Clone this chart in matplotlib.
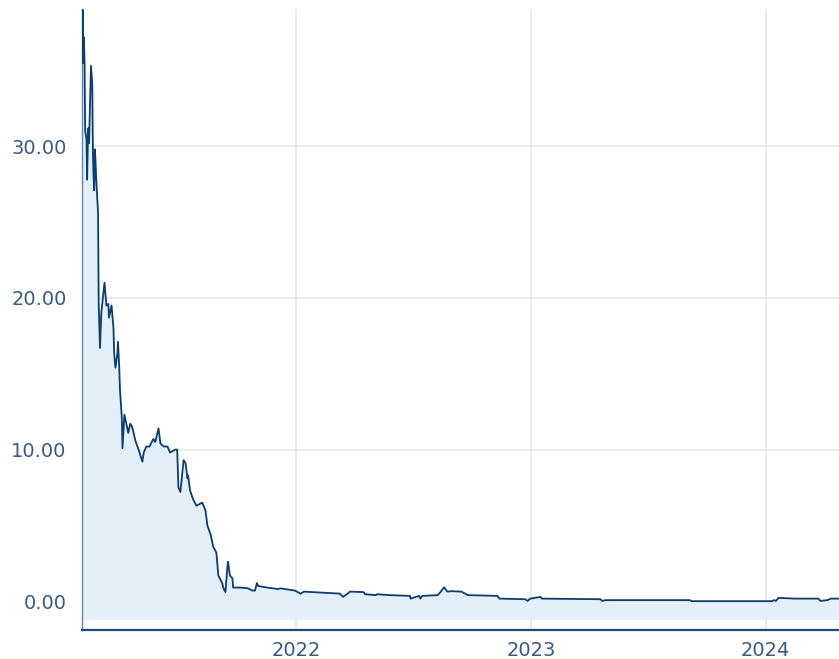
import matplotlib
matplotlib.use("Agg")
import matplotlib.pyplot as plt
import matplotlib.dates as mdates
import matplotlib.ticker as mticker
import pandas as pd

# daily close
dates = [
    "2021-02-02", "2021-02-03", "2021-02-04", "2021-02-05", "2021-02-06", "2021-02-07",
    "2021-02-09", "2021-02-10", "2021-02-11", "2021-02-12", "2021-02-13", "2021-02-16",
    "2021-02-18", "2021-02-19", "2021-02-20", "2021-02-21", "2021-02-22", "2021-02-23",
    "2021-02-24", "2021-02-27", "2021-02-28", "2021-03-02", "2021-03-04", "2021-03-09",
    "2021-03-12", "2021-03-15", "2021-03-16", "2021-03-20", "2021-03-23", "2021-03-24",
    "2021-03-26", "2021-03-29", "2021-03-30", "2021-04-01", "2021-04-02", "2021-04-05",
    "2021-04-06", "2021-04-09", "2021-04-12", "2021-04-15", "2021-04-18", "2021-04-21",
    "2021-04-26", "2021-05-01", "2021-05-07", "2021-05-09", "2021-05-13", "2021-05-18",
    "2021-05-24", "2021-05-27", "2021-06-01", "2021-06-04", "2021-06-09", "2021-06-15",
    "2021-06-19", "2021-06-27", "2021-06-30", "2021-07-02", "2021-07-05", "2021-07-10",
    "2021-07-13", "2021-07-16", "2021-07-17", "2021-07-20", "2021-07-25", "2021-07-30",
    "2021-08-08", "2021-08-13", "2021-08-16", "2021-08-21", "2021-08-25", "2021-08-30",
    "2021-09-02", "2021-09-08", "2021-09-10", "2021-09-13", "2021-09-16", "2021-09-17",
    "2021-09-20", "2021-09-24", "2021-09-25", "2021-10-06", "2021-10-18", "2021-10-25",
    "2021-10-29", "2021-11-01", "2021-11-03", "2021-11-17", "2021-12-04", "2021-12-07",
    "2021-12-30", "2022-01-08", "2022-01-13", "2022-03-10", "2022-03-15", "2022-03-26",
    "2022-04-16", "2022-04-18", "2022-05-05", "2022-05-07", "2022-05-26", "2022-06-27",
    "2022-06-28", "2022-07-11", "2022-07-13", "2022-07-16", "2022-08-09", "2022-08-14",
    "2022-08-19", "2022-08-24", "2022-08-30", "2022-09-15", "2022-09-25", "2022-11-10",
    "2022-11-13", "2022-12-23", "2022-12-27", "2022-12-31", "2023-01-16", "2023-01-18",
    "2023-04-19", "2023-04-22", "2023-04-27", "2023-09-05", "2023-09-08", "2024-01-11",
    "2024-01-14", "2024-01-17", "2024-01-21", "2024-02-15", "2024-03-23", "2024-03-26",
    "2024-04-06", "2024-04-11", "2024-04-24",
]
prices = [
    35.5, 39.0, 35.5, 37.2, 35.5, 31.0,
    30.5, 27.8, 30.0, 31.2, 30.2, 35.3,
    34.1, 29.7, 28.0, 27.1, 29.8, 29.1,
    28.0, 25.6, 19.6, 16.7, 19.0, 21.0,
    19.5, 19.6, 18.7, 19.5, 18.0, 16.4,
    15.4, 16.3, 17.1, 15.4, 14.0, 12.1,
    10.1, 12.3, 11.7, 11.1, 11.7, 11.5,
    10.6, 10.0, 9.2, 9.8, 10.2, 10.2,
    10.7, 10.5, 11.4, 10.4, 10.2, 10.2,
    9.8, 10.0, 10.0, 7.5, 7.2, 9.3,
    9.1, 8.1, 8.3, 7.3, 6.7, 6.3,
    6.5, 6.0, 5.0, 4.4, 3.6, 3.2,
    1.7, 1.2, 0.85, 0.6, 2.2, 2.6,
    1.7, 1.5, 0.9, 0.9, 0.85, 0.7,
    0.7, 1.2, 1.0, 0.9, 0.8, 0.85,
    0.7, 0.5, 0.63, 0.5, 0.28, 0.63,
    0.6, 0.46, 0.4, 0.46, 0.4, 0.35,
    0.17, 0.35, 0.17, 0.35, 0.4, 0.63,
    0.92, 0.63, 0.66, 0.63, 0.4, 0.35,
    0.17, 0.13, 0.02, 0.17, 0.28, 0.17,
    0.13, 0.02, 0.07, 0.07, 0.0, 0.0,
    0.07, 0.02, 0.22, 0.17, 0.17, 0.02,
    0.07, 0.17, 0.17,
]
y_ticks = [0, 10, 20, 30]
x_ticks = ["2022-01-01", "2023-01-01", "2024-01-01"]

df = pd.DataFrame({"date": pd.to_datetime(dates), "close": prices})

label_color = "#3a5a80"
line_color = "#0d3c6e"

fig = plt.figure(figsize=(8.39, 6.59), dpi=100)
ax = fig.add_axes([0.0977, 0.044, 0.9023, 0.9423])

ax.fill_between(df["date"], df["close"], -1.2, color="#e3eff9", lw=0, zorder=1)
ax.plot(df["date"], df["close"], color=line_color, lw=1.3, zorder=3)

ax.set_xlim(pd.Timestamp("2021-02-02"), pd.Timestamp("2024-04-24"))
ax.set_ylim(-1.9, 39.05)

ax.set_yticks(y_ticks)
ax.yaxis.set_major_formatter(mticker.FormatStrFormatter("%.2f"))
ax.set_xticks(pd.to_datetime(x_ticks))
ax.xaxis.set_major_formatter(mdates.DateFormatter("%Y"))

ax.grid(True, color="#e6e6e6", lw=1.2, zorder=0)
ax.set_axisbelow(True)
ax.tick_params(axis="both", length=0, labelsize=14, labelcolor=label_color)
ax.tick_params(axis="y", pad=11)
ax.tick_params(axis="x", pad=8)

for side in ["top", "right"]:
    ax.spines[side].set_visible(False)
ax.spines["left"].set_color("#5f86b0")
ax.spines["left"].set_linewidth(1.0)
ax.spines["bottom"].set_color("#1f4a78")
ax.spines["bottom"].set_linewidth(1.6)

fig.savefig("out.png", dpi=100)
